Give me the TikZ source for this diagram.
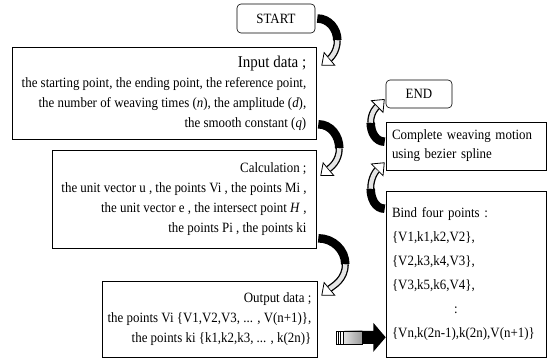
\documentclass[tikz,border=0pt]{standalone}
\usepackage{fontspec}
\setmainfont{Liberation Serif}[FakeStretch=0.91]
\usetikzlibrary{arrows.meta, calc, positioning}
\newcommand{\boxfont}{\fontsize{14.2}{20}\selectfont}
\tikzset{
    termBox/.style={draw, line width=0.6pt, rounded corners=4pt, inner sep=0pt, font=\boxfont},
    stepBox/.style={draw, line width=0.6pt, inner xsep=3pt, inner ysep=0pt, align=right, font=\boxfont},
    noteBox/.style={stepBox, align=left, inner xsep=6pt},
    bendTail/.style={line width=8.5pt, black},
    bendHead/.style={line width=7pt, black, -{Triangle[width=18pt, length=11pt, line width=0.8pt, fill=white]}},
    bendFill/.style={line width=4.4pt, gray!20, shorten >=11pt},
}
\newcommand{\bendArrow}[7]{
    \draw[bendTail] (#1) to[out=#4, in=#5] (#2);
    \draw[bendHead] (#2) to[out=#6, in=#7] (#3);
    \draw[bendFill] (#2) to[out=#6, in=#7] (#3);
}
\begin{document}
\begin{tikzpicture}[x=1pt, y=1pt]
    \useasboundingbox (0,0) rectangle (548,359);

    % left column
    \node[termBox, minimum width=78pt, minimum height=29pt] (start) at (276,340.5) {START};
    \node[stepBox, minimum width=304pt, minimum height=92pt] (input) at (164,266) {{\fontsize{16.5}{20}\selectfont Input data ;}\\
        the starting point, the ending point, the reference point,\\
        the number of weaving times (\textit{n}), the amplitude (\textit{d}),\\
        the smooth constant (\textit{q})};
    \node[stepBox, minimum width=264pt, minimum height=98pt] (calc) at (184,160) {Calculation ;\\
        the unit vector u , the points Vi , the points Mi ,\\
        the unit vector e , the intersect point \textit{H} ,\\
        the points Pi , the points ki};
    \node[stepBox, minimum width=215pt, minimum height=76pt] (output) at (209.5,40) {Output data ;\\
        the points Vi \{V1,V2,V3, ... , V(n+1)\},\\
        the points ki \{k1,k2,k3, ... , k(2n)\}};

    % right column
    \node[termBox, minimum width=66pt, minimum height=28pt] (finish) at (419,265) {END};
    \node[noteBox, text width=148pt, minimum height=48pt, font=\fontsize{14.2}{19}\selectfont] (bezier) at (466,213) {Complete weaving motion\\
        using bezier spline};
    \node[noteBox, text width=148pt, minimum height=166pt, font=\fontsize{14.2}{24}\selectfont] (bind) at (466,85) {Bind four points :\\
        \{V1,k1,k2,V2\},\\
        \{V2,k3,k4,V3\},\\
        \{V3,k5,k6,V4\},\\
        \hspace*{62pt}:\\
        \{Vn,k(2n-1),k(2n),V(n+1)\}};

    % bent arrows
    \coordinate (a1t) at ($(start.east)+(2,0)$);
    \coordinate (a1m) at ($(start.south east)+(22,-7)$);
    \coordinate (a1h) at ($(input.north east)+(5,-19)$);
    \bendArrow{a1t}{a1m}{a1h}{0}{90}{-90}{40}

    \coordinate (a2t) at ($(input.south east)+(2,15)$);
    \coordinate (a2m) at ($(input.south east)+(23,-9)$);
    \coordinate (a2h) at ($(calc.east)+(4,23)$);
    \bendArrow{a2t}{a2m}{a2h}{0}{90}{-90}{40}

    \coordinate (a3t) at ($(calc.south east)+(2,10)$);
    \coordinate (a3m) at ($(calc.south east)+(29,-16)$);
    \coordinate (a3h) at ($(output.north east)+(4,-15)$);
    \bendArrow{a3t}{a3m}{a3h}{0}{90}{-90}{40}

    \coordinate (a4t) at ($(bezier.north west)+(-1,-20)$);
    \coordinate (a4m) at ($(bezier.north west)+(-15,-1)$);
    \coordinate (a4h) at ($(finish.west)+(-1,-5)$);
    \bendArrow{a4t}{a4m}{a4h}{180}{-90}{90}{225}

    \coordinate (a5t) at ($(bind.north west)+(-1,-18)$);
    \coordinate (a5m) at ($(bind.north west)+(-15,2)$);
    \coordinate (a5h) at ($(bezier.south west)+(-1,8)$);
    \bendArrow{a5t}{a5m}{a5h}{180}{-90}{90}{225}

    % striped tail and block arrow into bind
    \coordinate (a6) at ($(output.south east)+(19,20)$);
    \shade[left color=gray!25, right color=gray!80] ($(a6)+(8,-6.5)$) rectangle ($(a6)+(26,6.5)$);
    \draw[line width=0.6pt] ($(a6)+(0,-6.5)$) rectangle ($(a6)+(26,6.5)$);
    \foreach \dx in {2,4.5,7} \draw[line width=1.2pt] ($(a6)+(\dx,-6.5)$) -- ++(0,13);
    \fill[black] ($(a6)+(26,-6.5)$) -- ++(11,0) -- ++(0,-8) -- (bind.west |- a6) -- ($(a6)+(37,14.5)$) -- ++(0,-8) -- ++(-11,0) -- cycle;
\end{tikzpicture}
\end{document}
